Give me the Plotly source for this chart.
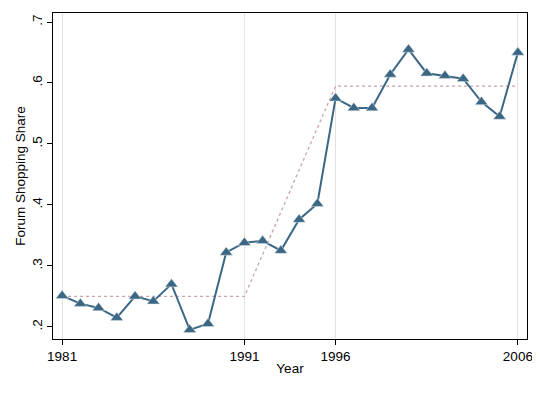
import plotly.graph_objects as go

# Forum shopping share by year
years = list(range(1981, 2007))
share = [0.251, 0.238, 0.231, 0.215, 0.250, 0.242, 0.270, 0.195, 0.205, 0.322,
         0.338, 0.341, 0.325, 0.376, 0.402, 0.575, 0.559, 0.559, 0.614, 0.655,
         0.616, 0.612, 0.607, 0.569, 0.545, 0.650]

# Fitted step/ramp line
fit_years = [1981, 1991, 1996, 2006]
fit_share = [0.250, 0.250, 0.595, 0.595]

x_ticks = [1981, 1991, 1996, 2006]
y_ticks = [0.2, 0.3, 0.4, 0.5, 0.6, 0.7]
y_labels = [".2", ".3", ".4", ".5", ".6", ".7"]

COLOR_LINE = "#3b6784"
COLOR_FIT = "#c9a3a3"
FONT = "Liberation Sans, Arial, sans-serif"

fig = go.Figure()

fig.add_trace(go.Scatter(
    x=fit_years, y=fit_share, mode="lines",
    line=dict(color=COLOR_FIT, width=1.3, dash="3px,3px"),
    showlegend=False,
))

fig.add_trace(go.Scatter(
    x=years, y=share, mode="lines+markers",
    line=dict(color=COLOR_LINE, width=2),
    marker=dict(symbol="triangle-up", size=11, color=COLOR_LINE,
                line=dict(color="#dfe6ea", width=0.5)),
    showlegend=False,
))

# page body has an 8px margin, so the figure is shrunk to fit the window
fig.update_layout(
    width=532, height=385,
    margin=dict(l=45, r=13, t=5, b=54),
    paper_bgcolor="white", plot_bgcolor="white",
    font=dict(family=FONT, size=13, color="black"),
)

fig.update_xaxes(
    range=[1980.5, 2006.5], tickvals=x_ticks, automargin=False,
    showgrid=True, gridcolor="#e2e2e2", gridwidth=1,
    showline=True, linecolor="black", linewidth=1.2, mirror=True,
    ticks="outside", ticklen=5, tickcolor="black",
    tickfont=dict(family=FONT, size=13.5, color="black"),
    title=dict(text="Year", standoff=0, font=dict(family=FONT, size=13.5)),
    zeroline=False,
)
fig.update_yaxes(
    range=[0.18, 0.7148], tickvals=y_ticks, ticktext=y_labels, automargin=False,
    tickangle=-90, showgrid=False,
    showline=True, linecolor="black", linewidth=1.2, mirror=True,
    ticks="outside", ticklen=5, tickcolor="black",
    tickfont=dict(family=FONT, size=13.5, color="black"),
    title=dict(text="Forum Shopping Share", standoff=0, font=dict(family=FONT, size=13.5)),
    zeroline=False,
)

fig.write_html("out.html")
